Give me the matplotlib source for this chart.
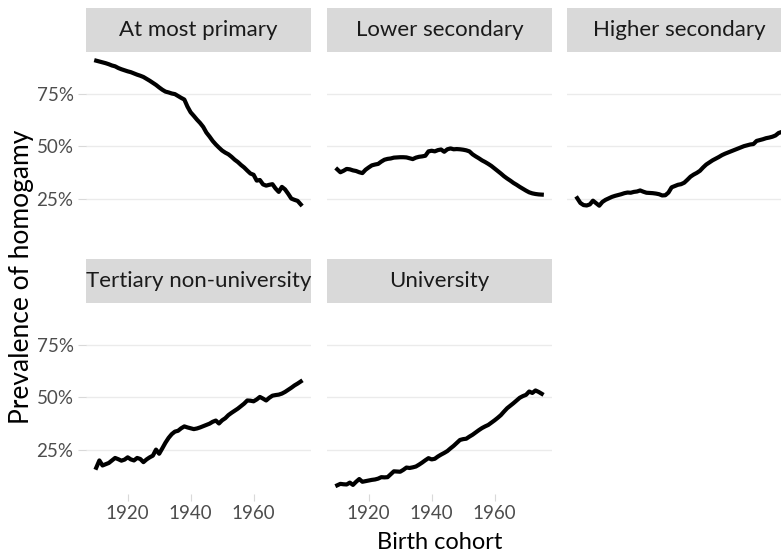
import matplotlib
matplotlib.use("Agg")
import matplotlib.pyplot as plt
from matplotlib.ticker import FuncFormatter
import numpy as np

plt.rcParams['font.family'] = ['Lato', 'DejaVu Sans']

years = np.arange(1910, 1976)

panels = ["At most primary", "Lower secondary", "Higher secondary",
          "Tertiary non-university", "University"]

at_most_primary = [
    91.0, 90.6, 90.2, 89.8, 89.3, 88.7, 88.3, 87.5, 86.9, 86.4,
    85.9, 85.5, 84.9, 84.3, 83.8, 83.2, 82.3, 81.4, 80.4, 79.4,
    78.2, 77.1, 76.2, 75.8, 75.3, 75.0, 74.1, 73.2, 72.4, 69.0,
    66.3, 64.6, 62.8, 61.2, 59.3, 56.6, 54.7, 52.6, 50.9, 49.4,
    48.0, 47.0, 46.2, 45.0, 43.6, 42.5, 41.1, 39.9, 38.4, 37.0,
    36.4, 33.6, 33.9, 31.8, 31.2, 31.6, 31.9, 29.8, 28.2, 30.6,
    29.4, 27.3, 25.0, 24.4, 23.9, 22.2]

lower_secondary = [
    39.0, 37.6, 38.3, 39.2, 39.0, 38.5, 38.2, 37.6, 37.2, 38.8,
    39.9, 40.9, 41.3, 41.6, 42.7, 43.6, 44.0, 44.2, 44.6, 44.7,
    44.8, 44.8, 44.7, 44.3, 43.9, 44.6, 45.0, 45.2, 45.5, 47.6,
    47.9, 47.6, 48.2, 48.5, 47.4, 48.6, 49.0, 48.6, 48.7, 48.6,
    48.4, 48.1, 47.6, 46.2, 45.2, 44.3, 43.3, 42.5, 41.6, 40.6,
    39.4, 38.2, 37.0, 35.7, 34.6, 33.6, 32.5, 31.6, 30.6, 29.7,
    28.8, 28.0, 27.5, 27.2, 27.0, 26.9]

higher_secondary = [
    25.2, 22.9, 21.9, 21.7, 22.2, 24.0, 22.8, 21.6, 23.4, 24.4,
    25.1, 25.8, 26.3, 26.7, 27.1, 27.6, 27.9, 27.8, 28.2, 28.4,
    28.9, 28.3, 27.8, 27.7, 27.6, 27.4, 27.1, 26.5, 26.6, 27.9,
    30.4, 31.0, 31.6, 31.9, 32.6, 34.0, 35.5, 36.5, 37.3, 38.3,
    39.9, 41.3, 42.3, 43.3, 44.1, 44.9, 45.8, 46.5, 47.1, 47.7,
    48.3, 48.9, 49.5, 50.1, 50.5, 50.9, 51.1, 52.6, 53.0, 53.4,
    53.9, 54.2, 54.6, 55.2, 56.4, 56.9]

tertiary_non_university = [
    16.3, 19.8, 17.4, 18.0, 18.6, 19.8, 21.0, 20.4, 19.7, 20.2,
    21.3, 20.3, 19.8, 21.0, 20.5, 19.0, 20.3, 21.3, 22.1, 25.0,
    23.0, 25.6, 28.3, 30.6, 32.4, 33.6, 34.0, 35.2, 36.1, 35.6,
    35.2, 34.8, 35.1, 35.6, 36.2, 36.8, 37.4, 38.3, 38.9, 37.5,
    39.0, 40.0, 41.5, 42.6, 43.6, 44.6, 45.8, 47.0, 48.5, 48.4,
    48.1, 49.0, 50.2, 49.4, 48.5, 49.8, 50.8, 51.1, 51.3, 51.8,
    52.6, 53.6, 54.6, 55.7, 56.6, 57.6]

university = [
    7.9, 8.6, 8.4, 8.3, 9.2, 8.1, 9.6, 10.9, 9.6, 9.9,
    10.2, 10.5, 10.7, 11.1, 11.8, 11.7, 11.8, 13.2, 14.6, 14.5,
    14.4, 15.3, 16.4, 16.2, 16.5, 16.9, 17.8, 18.8, 19.9, 20.9,
    20.3, 20.6, 21.7, 22.6, 23.4, 24.3, 25.6, 26.8, 28.2, 29.6,
    30.0, 30.2, 31.2, 32.1, 33.2, 34.3, 35.3, 36.1, 36.8, 37.9,
    39.0, 40.2, 41.5, 43.2, 44.8, 46.0, 47.2, 48.5, 49.8, 50.6,
    51.2, 52.8, 52.1, 53.3, 52.6, 51.7]

series = [at_most_primary, lower_secondary, higher_secondary,
          tertiary_non_university, university]

y_ticks = [25, 50, 75]
x_ticks = [1920, 1940, 1960]

W, H = 781, 555
fig = plt.figure(figsize=(W / 100, H / 100), dpi=100)

# layout in pixels (ggplot facet_wrap look)
col_left = [86, 327, 567]
row_top = [52, 303]
pw, ph, sh = 225, 191, 44

allv = np.concatenate([np.array(s) for s in series])
yr = allv.max() - allv.min()
ylim = (allv.min() - 0.05 * yr, allv.max() + 0.05 * yr)
xr = years[-1] - years[0]
xlim = (years[0] - 0.05 * xr, years[-1] + 0.05 * xr)

grid_col = "#EBEBEB"
tick_col = "#D9D9D9"

for i, (name, vals) in enumerate(zip(panels, series)):
    r, c = divmod(i, 3)
    x0, y0 = col_left[c], row_top[r]
    ax = fig.add_axes([x0 / W, 1 - (y0 + ph) / H, pw / W, ph / H])
    ax.plot(years, vals, color="black", lw=3.0, solid_joinstyle="round")
    ax.set_xlim(*xlim)
    ax.set_ylim(*ylim)
    ax.set_yticks(y_ticks)
    ax.set_xticks(x_ticks)
    ax.yaxis.set_major_formatter(FuncFormatter(lambda v, p: f"{v:.0f}%"))
    ax.grid(axis="y", color=grid_col, lw=1.0)
    ax.set_axisbelow(True)
    for s in ax.spines.values():
        s.set_visible(False)
    show_x = (r == 1) or (i >= 3)
    show_y = (c == 0)
    ax.tick_params(axis="y", length=6 if show_y else 0, color=tick_col,
                   labelsize=13.5, labelcolor="#4D4D4D", pad=3,
                   labelleft=show_y)
    ax.tick_params(axis="x", length=5 if show_x else 0, color=tick_col,
                   labelsize=13.5, labelcolor="#4D4D4D", pad=3,
                   labelbottom=show_x)

    # strip
    sax = fig.add_axes([x0 / W, 1 - y0 / H, pw / W, sh / H])
    sax.set_facecolor("#D9D9D9")
    sax.set_xticks([])
    sax.set_yticks([])
    for s in sax.spines.values():
        s.set_visible(False)
    sax.text(0.5, 0.5, name, ha="center", va="center", fontsize=16,
             color="#1A1A1A", transform=sax.transAxes)

fig.text(22 / W, 1 - 277 / H, "Prevalence of homogamy", rotation=90,
         ha="center", va="center", fontsize=19, color="black")
fig.text(440 / W, 1 - 549 / H, "Birth cohort", ha="center", va="baseline",
         fontsize=17, color="black")

fig.savefig("out.png", dpi=100, facecolor="white")
